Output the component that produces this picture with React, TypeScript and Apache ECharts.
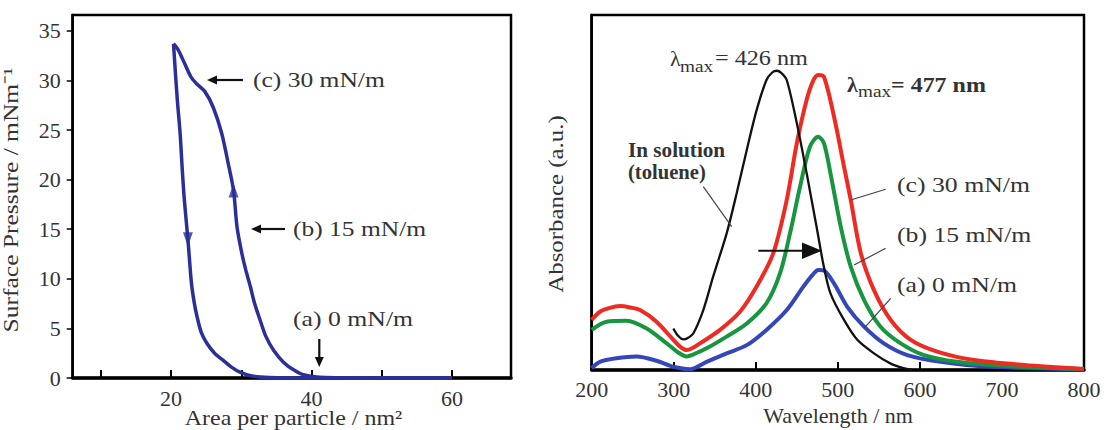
import React, { useEffect, useRef } from "react";
import * as echarts from "echarts";

// ---------- Left panel: surface pressure isotherm ----------
const isoTicksX = [10, 20, 30, 40, 50, 60];
const isoLabelsX = [20, 40, 60];
const isoTicksY = [0, 5, 10, 15, 20, 25, 30, 35];

// compression branch (area decreasing, pressure rising)
const compression: [number, number][] = [
  [60, 0], [50, 0], [42, 0.05], [39, 0.3], [37.5, 0.8], [36, 1.6], [34.6, 2.8],
  [33.5, 4.2], [32.7, 5.8], [31.9, 7.5], [31.3, 9.2], [30.6, 11], [30.1, 12.5],
  [29.4, 15.2], [28.9, 18.9], [28.15, 21.6], [27.2, 24.7], [26.0, 27.3],
  [24.8, 28.9], [23.6, 29.7], [22.8, 30.4], [21.75, 32.0], [21.0, 33.1], [20.35, 33.7],
];
// expansion branch (pressure falling)
const expansion: [number, number][] = [
  [20.35, 33.7], [20.6, 31], [20.9, 28], [21.3, 24.6], [21.6, 21], [21.9, 17.9],
  [22.4, 14], [22.9, 9.6], [23.3, 7.6], [23.7, 6.2], [24.3, 4.6], [25.1, 3.5],
  [26.2, 2.5], [27.4, 1.8], [28.6, 1.1], [29.8, 0.6], [31.5, 0.2], [34, 0.05],
  [40, 0], [50, 0], [60, 0],
];
const arrowUpPts: [number, number][] = [[28.9, 18.9]];
const arrowDownPts: [number, number][] = [[22.4, 14]];

// ---------- Right panel: absorbance spectra ----------
const specTicksX = [300, 400, 500, 600, 700];
const specLabelsX = [200, 300, 400, 500, 600, 700, 800];

const toluene: [number, number][] = [
  [299.5, 0.117], [305, 0.097], [311.7, 0.086], [317, 0.09], [323.8, 0.103],
  [336, 0.169], [348, 0.263], [364.5, 0.385], [376.7, 0.498], [389, 0.62],
  [401, 0.732], [413, 0.817], [420, 0.838], [425.5, 0.843], [431, 0.837],
  [437.7, 0.817], [450, 0.695], [462, 0.554], [474, 0.404], [483, 0.29],
  [491, 0.216], [507.5, 0.141], [523.7, 0.085], [544, 0.047], [564.4, 0.018],
  [580, 0.005], [590, 0],
];
const film30: [number, number][] = [
  [200, 0.141], [210, 0.164], [222, 0.175], [234.5, 0.18], [247, 0.176], [259, 0.169],
  [279, 0.136], [299.5, 0.085], [308, 0.065], [315.8, 0.056], [323, 0.062], [332, 0.075],
  [356.4, 0.113], [380.7, 0.164], [401, 0.235], [421.3, 0.329], [437.7, 0.479],
  [450, 0.639], [462, 0.761], [470, 0.815], [476, 0.831], [483, 0.826], [495.3, 0.714],
  [507.5, 0.573], [515.7, 0.479], [528, 0.329], [544, 0.225], [564.4, 0.141],
  [588.8, 0.085], [621, 0.052], [666, 0.028], [727, 0.014], [800, 0.003],
];
const film15: [number, number][] = [
  [200, 0.113], [218, 0.136], [242.6, 0.139], [267, 0.117], [291.4, 0.075], [305, 0.05],
  [315.8, 0.038], [325, 0.045], [340, 0.061], [364.5, 0.094], [389, 0.131], [413, 0.188],
  [429.5, 0.272], [441.7, 0.385], [453.9, 0.516], [466, 0.629], [476, 0.657], [483, 0.639],
  [491, 0.554], [503.5, 0.404], [515.7, 0.291], [532, 0.197], [552, 0.122], [576.6, 0.075],
  [605, 0.042], [645.6, 0.023], [706.5, 0.011], [800, 0.002],
];
const film0: [number, number][] = [
  [200, 0.005], [210, 0.023], [230, 0.033], [254.8, 0.038], [279, 0.026], [299.5, 0.009],
  [319.8, 0.002], [340, 0.023], [364.5, 0.047], [389, 0.07], [413, 0.113], [437.7, 0.169],
  [458, 0.235], [470, 0.27], [476, 0.282], [483, 0.28], [495.3, 0.244], [511.5, 0.178],
  [532, 0.122], [556, 0.075], [584.6, 0.042], [625, 0.023], [686, 0.009], [800, 0.002],
];

const FONT = "Liberation Serif";
const TXT = "#333";
const ISO_BLUE = "#2c2f98";

type TOpts = { size?: number; sx?: number; weight?: string; align?: string; rot?: number; color?: string };
const txt = (x: number, y: number, text: string, o: TOpts = {}) => ({
  type: "text",
  x,
  y,
  scaleX: o.sx ?? 1,
  rotation: o.rot ?? 0,
  z: 100,
  style: {
    text,
    fontFamily: FONT,
    fontSize: o.size ?? 22,
    fontWeight: o.weight ?? "normal",
    fill: o.color ?? TXT,
    align: o.align ?? "left",
    verticalAlign: "middle",
  },
});
const seg = (x1: number, y1: number, x2: number, y2: number, w = 1.2, c = "#444") => ({
  type: "line",
  z: 100,
  shape: { x1, y1, x2, y2 },
  style: { stroke: c, lineWidth: w },
});
const tri = (pts: number[][], c = "#111") => ({
  type: "polygon",
  z: 100,
  shape: { points: pts },
  style: { fill: c },
});

export default function App() {
  const ref = useRef<HTMLDivElement>(null);
  useEffect(() => {
    if (!ref.current) return;
    const chart = echarts.init(ref.current, undefined, { renderer: "svg" });
    const tickLabel = { fontFamily: FONT, fontSize: 22, color: TXT };
    chart.setOption({
      animation: false,
      backgroundColor: "#fff",
      textStyle: { fontFamily: FONT },
      grid: [
        { left: 72.7, top: 15, width: 438.3, height: 363, show: true, borderColor: "#000", borderWidth: 2.5 },
        { left: 591.7, top: 15, width: 492.3, height: 355, show: true, borderColor: "#000", borderWidth: 2.5 },
      ],
      xAxis: [
        {
          gridIndex: 0, type: "value", min: 6, max: 68.4,
          axisLine: { show: true, onZero: false, lineStyle: { color: "#000", width: 3.5 } },
          axisTick: { show: true, inside: true, length: 8, customValues: isoTicksX, lineStyle: { color: "#000", width: 2 } },
          axisLabel: { ...tickLabel, customValues: isoLabelsX, margin: 9 },
          splitLine: { show: false },
        },
        {
          gridIndex: 1, type: "value", min: 200, max: 800,
          axisLine: { show: true, onZero: false, lineStyle: { color: "#000", width: 3.5 } },
          axisTick: { show: true, inside: true, length: 8, customValues: specTicksX, lineStyle: { color: "#000", width: 2 } },
          axisLabel: { ...tickLabel, customValues: specLabelsX, margin: 8 },
          splitLine: { show: false },
        },
      ],
      yAxis: [
        {
          gridIndex: 0, type: "value", min: 0, max: 36.6,
          axisLine: { show: true, lineStyle: { color: "#000", width: 2.5 } },
          axisTick: { show: true, inside: false, length: 6, customValues: isoTicksY, lineStyle: { color: "#000", width: 1.5 } },
          axisLabel: { ...tickLabel, customValues: isoTicksY, margin: 12 },
          splitLine: { show: false },
        },
        {
          gridIndex: 1, type: "value", min: 0, max: 1,
          axisLine: { show: true, lineStyle: { color: "#000", width: 2.5 } },
          axisTick: { show: false },
          axisLabel: { show: false },
          splitLine: { show: false },
        },
      ],
      series: [
        { type: "line", xAxisIndex: 0, yAxisIndex: 0, data: compression, showSymbol: false, smooth: 0.3, lineStyle: { color: ISO_BLUE, width: 3.5 } },
        { type: "line", xAxisIndex: 0, yAxisIndex: 0, data: expansion, showSymbol: false, smooth: 0.3, lineStyle: { color: ISO_BLUE, width: 3.5 } },
        { type: "scatter", xAxisIndex: 0, yAxisIndex: 0, data: arrowUpPts, symbol: "triangle", symbolSize: [10, 14], itemStyle: { color: ISO_BLUE } },
        { type: "scatter", xAxisIndex: 0, yAxisIndex: 0, data: arrowDownPts, symbol: "triangle", symbolRotate: 180, symbolSize: [10, 14], itemStyle: { color: ISO_BLUE } },
        { type: "line", xAxisIndex: 1, yAxisIndex: 1, data: film0, showSymbol: false, smooth: 0.3, lineStyle: { color: "#3347b8", width: 4 } },
        { type: "line", xAxisIndex: 1, yAxisIndex: 1, data: film15, showSymbol: false, smooth: 0.3, lineStyle: { color: "#18963f", width: 4 } },
        { type: "line", xAxisIndex: 1, yAxisIndex: 1, data: film30, showSymbol: false, smooth: 0.3, lineStyle: { color: "#ee2b22", width: 4 } },
        { type: "line", xAxisIndex: 1, yAxisIndex: 1, data: toluene, showSymbol: false, smooth: 0.3, lineStyle: { color: "#111", width: 2.3 } },
      ],
      graphic: [
        // left panel axis names
        txt(11, 200, "Surface Pressure / mNm\u207B\u00B9", { rot: Math.PI / 2, align: "center", sx: 1.16 }),
        txt(293.5, 417, "Area per particle / nm\u00B2", { align: "center", sx: 1.09 }),
        // left annotations
        txt(253, 80, "(c) 30 mN/m", { sx: 1.16 }),
        seg(243, 80, 214, 80, 2.2, "#111"),
        tri([[207, 80], [217, 75.5], [217, 84.5]]),
        txt(293, 229, "(b) 15 mN/m", { sx: 1.16 }),
        seg(285, 229, 258, 229, 2.2, "#111"),
        tri([[251, 229], [261, 224.5], [261, 233.5]]),
        txt(293, 319, "(a) 0 mN/m", { sx: 1.17 }),
        seg(319.3, 339, 319.3, 359, 2.2, "#111"),
        tri([[319.3, 367], [314.8, 357], [323.8, 357]]),
        // right panel axis names
        txt(556, 204, "Absorbance (a.u.)", { rot: Math.PI / 2, align: "center", sx: 1.13 }),
        txt(838, 415, "Wavelength / nm", { align: "center", sx: 1.0 }),
        // lambda max labels
        txt(670, 58, "\u03BB", { size: 22 }),
        txt(680, 67, "max", { size: 16, sx: 1.2 }),
        txt(715, 57, "= 426 nm", { sx: 1.1 }),
        txt(847, 84, "\u03BB", { size: 22, weight: "bold" }),
        txt(858, 92, "max", { size: 16, sx: 1.2 }),
        txt(891, 84, "= 477 nm", { weight: "bold", sx: 1.09 }),
        // solution label
        txt(628, 150, "In solution", { size: 20, weight: "bold", sx: 1.06 }),
        txt(628, 172, "(toluene)", { size: 20, weight: "bold", sx: 1.03 }),
        seg(703.3, 186.7, 731.7, 226.7),
        // film labels
        txt(897, 185, "(c) 30 mN/m", { sx: 1.17 }),
        seg(885.7, 189.3, 850.7, 200),
        txt(897, 235, "(b) 15 mN/m", { sx: 1.17 }),
        seg(885.7, 248.3, 854, 265),
        txt(897, 285, "(a) 0 mN/m", { sx: 1.17 }),
        seg(890.7, 298.3, 864, 328.3),
        // red-shift arrow
        seg(758.3, 250.7, 805, 250.7, 2, "#111"),
        tri([[822, 250.7], [802, 242.5], [802, 258.9]]),
      ],
    });
    return () => chart.dispose();
  }, []);
  return (
    <div
      ref={ref}
      style={{ position: "absolute", left: 0, top: 0, width: 1107, height: 430, background: "#fff" }}
    />
  );
}
